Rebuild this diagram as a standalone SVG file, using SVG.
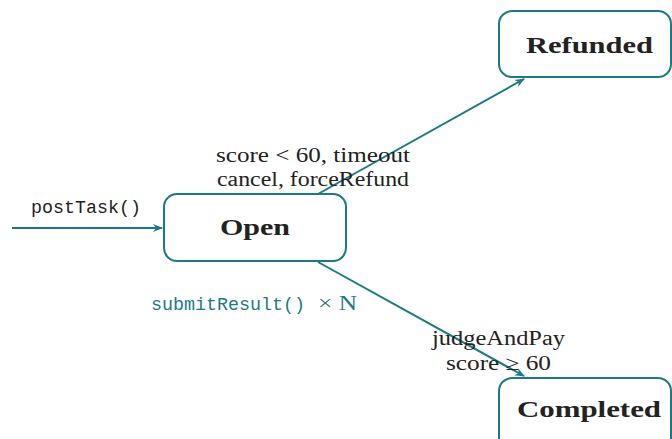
<svg xmlns="http://www.w3.org/2000/svg" width="672" height="439" viewBox="0 0 672 439">
<style>
.node{fill:#fff;stroke:#1b7a86;stroke-width:2}
.edge{fill:none;stroke:#1b7a86;stroke-width:2}
.title{font-family:"Liberation Serif","DejaVu Serif",serif;font-weight:bold;font-size:24px;fill:#222}
.lbl{font-family:"Liberation Serif","DejaVu Serif",serif;font-size:20px;fill:#222}
.mono{font-family:"Liberation Mono","DejaVu Sans Mono",monospace;font-size:18px;fill:#222}
</style>
<defs>
<marker id="arr" viewBox="0 0 10 10" refX="9" refY="5" markerWidth="10" markerHeight="10" markerUnits="userSpaceOnUse" orient="auto">
<path d="M0,1 L10,5 L0,9 L3,5 Z" fill="#1b7a86"/>
</marker>
</defs>
<g id="connectors">
<line class="edge" x1="12" y1="228" x2="162" y2="228" marker-end="url(#arr)"/>
<line class="edge" x1="318" y1="194" x2="524" y2="79" marker-end="url(#arr)"/>
<line class="edge" x1="318" y1="262" x2="524" y2="376" marker-end="url(#arr)"/>
<text class="mono" x="31" y="213" textLength="110" lengthAdjust="spacingAndGlyphs">postTask()</text>
<text class="lbl" x="216" y="162" textLength="194" lengthAdjust="spacingAndGlyphs">score &lt; 60, timeout</text>
<text class="lbl" x="217" y="186" textLength="192" lengthAdjust="spacingAndGlyphs">cancel, forceRefund</text>
<text class="mono" x="151" y="310" fill="#1b7a86" style="fill:#1b7a86" textLength="154" lengthAdjust="spacingAndGlyphs">submitResult()</text>
<text class="lbl" x="318" y="310" style="fill:#1b7a86" textLength="39" lengthAdjust="spacingAndGlyphs">× N</text>
<text class="lbl" x="432" y="345" textLength="133" lengthAdjust="spacingAndGlyphs">judgeAndPay</text>
<text class="lbl" x="446" y="370" textLength="105" lengthAdjust="spacingAndGlyphs">score ≥ 60</text>
</g>
<g id="open">
<rect class="node" x="164" y="194" width="182" height="67" rx="13"/>
<text class="title" x="220" y="235" textLength="70" lengthAdjust="spacingAndGlyphs">Open</text>
</g>
<g id="refunded">
<rect class="node" x="499" y="11" width="172" height="66" rx="13"/>
<text class="title" x="526" y="53" textLength="127" lengthAdjust="spacingAndGlyphs">Refunded</text>
</g>
<g id="completed">
<rect class="node" x="499" y="378" width="172" height="80" rx="13"/>
<text class="title" x="517" y="417" textLength="144" lengthAdjust="spacingAndGlyphs">Completed</text>
</g>
</svg>
